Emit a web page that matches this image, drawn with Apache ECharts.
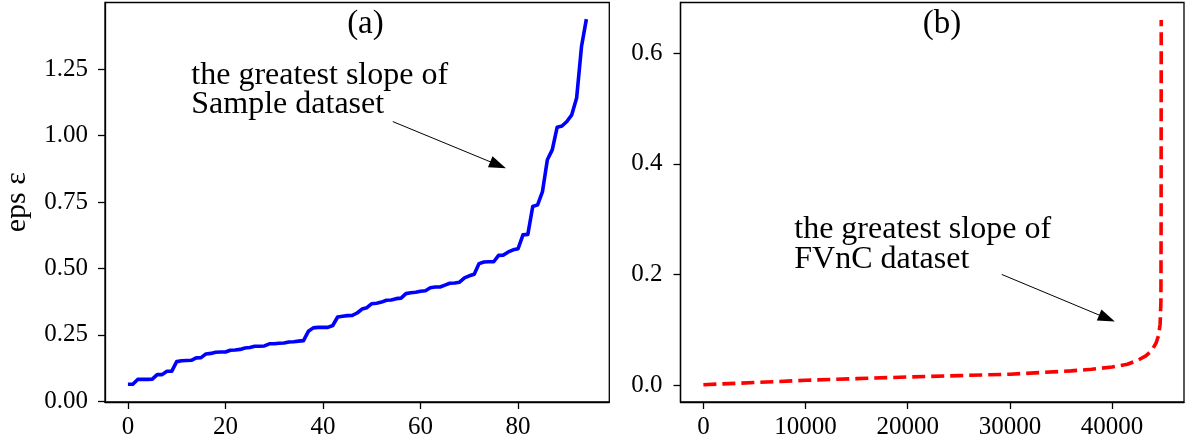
<!DOCTYPE html>
<html>
<head>
<meta charset="utf-8">
<script src="https://cdn.jsdelivr.net/npm/echarts@6/dist/echarts.min.js"></script>
<style>
html,body{margin:0;padding:0;background:#fff;}
#c{width:1191px;height:446px;}
</style>
</head>
<body>
<div id="c"></div>
<script>
// ---- data ----
const epsSample = [
  0.064, 0.064, 0.082, 0.082, 0.082, 0.083, 0.100, 0.100, 0.113, 0.113,
  0.149, 0.152, 0.153, 0.154, 0.163, 0.164, 0.178, 0.180, 0.184, 0.185,
  0.185, 0.192, 0.193, 0.195, 0.200, 0.202, 0.207, 0.207, 0.208, 0.216,
  0.216, 0.218, 0.219, 0.223, 0.224, 0.226, 0.228, 0.263, 0.276, 0.278,
  0.278, 0.278, 0.285, 0.317, 0.320, 0.322, 0.323, 0.332, 0.347, 0.352,
  0.367, 0.369, 0.373, 0.380, 0.381, 0.386, 0.388, 0.405, 0.408, 0.410,
  0.414, 0.416, 0.427, 0.430, 0.430, 0.437, 0.444, 0.445, 0.448, 0.464,
  0.472, 0.478, 0.518, 0.524, 0.525, 0.525, 0.549, 0.550, 0.562, 0.570,
  0.574, 0.626, 0.628, 0.733, 0.739, 0.789, 0.909, 0.946, 1.031, 1.036,
  1.053, 1.078, 1.141, 1.335, 1.438
];
const fvncX = [0, 5000, 10000, 15000, 20000, 25000, 30000, 33000, 36000, 38000, 40000, 41500, 42500, 43300, 43900, 44300, 44550, 44700, 44780, 44800, 44810];
const fvncEps = [0.001, 0.005, 0.009, 0.012, 0.015, 0.0175, 0.020, 0.023, 0.026, 0.029, 0.033, 0.038, 0.045, 0.053, 0.063, 0.076, 0.090, 0.110, 0.150, 0.300, 0.660];

const xTicksA = [0, 20, 40, 60, 80];
const yTicksA = [0, 0.25, 0.5, 0.75, 1.0, 1.25];
const xTicksB = [0, 10000, 20000, 30000, 40000];
const yTicksB = [0, 0.2, 0.4, 0.6];

const titleA = '(a)', titleB = '(b)';
const yName = 'eps ε';
const noteA = ['the greatest slope of', 'Sample dataset'];
const noteB = ['the greatest slope of', 'FVnC dataset'];

// annotation anchors (data coords)
const noteAPos = [[13.0, 1.2244], [13.0, 1.1154]];
const noteBPos = [[8895, 0.2804], [8895, 0.2279]];
const arrowA = [[54.3, 1.0526], [75.9, 0.889]];
const arrowB = [[29198, 0.2003], [39502, 0.121]];
const titleAPos = [48.7, 1.418];
const titleBPos = [23363, 0.653];

// ---- chart ----
const FONT = 'Liberation Serif';
const chart = echarts.init(document.getElementById('c'), null, {renderer: 'canvas'});

function axisCommon(ticks, fmt, margin) {
  return {
    axisLine: {show: true, onZero: false, lineStyle: {color: '#000', width: 1.3}},
    axisTick: {show: true, length: 7, inside: false, customValues: ticks, lineStyle: {color: '#000', width: 1.3}},
    axisLabel: {customValues: ticks, fontFamily: FONT, fontSize: 25, color: '#000', margin: margin, formatter: fmt},
    splitLine: {show: false}
  };
}

const seriesA = epsSample.map((v, i) => [i, v]);
const seriesB = fvncX.map((x, i) => [x, fvncEps[i]]);

const gridBase = {top: 2.5, height: 399.5, show: true, borderColor: '#000', borderWidth: 1.3,
  backgroundColor: 'transparent', containLabel: false, outerBoundsMode: 'none'};

const option = {
  animation: false,
  backgroundColor: '#fff',
  grid: [
    Object.assign({left: 105, width: 504.3}, gridBase),
    Object.assign({left: 680.5, width: 503.5}, gridBase)
  ],
  xAxis: [
    Object.assign({type: 'value', gridIndex: 0, min: -4.7, max: 98.7}, axisCommon(xTicksA, v => String(v), 13)),
    Object.assign({type: 'value', gridIndex: 1, min: -2240, max: 47040}, axisCommon(xTicksB, v => String(v), 13))
  ],
  yAxis: [
    Object.assign({type: 'value', gridIndex: 0, min: -0.003, max: 1.5008,
      name: yName, nameLocation: 'middle', nameGap: 73, nameRotate: 90,
      nameTextStyle: {fontFamily: FONT, fontSize: 30, color: '#000'}},
      axisCommon(yTicksA, v => v.toFixed(2), 17)),
    Object.assign({type: 'value', gridIndex: 1, min: -0.0302, max: 0.6916},
      axisCommon(yTicksB, v => v.toFixed(1), 18))
  ],
  series: [
    {
      type: 'line', xAxisIndex: 0, yAxisIndex: 0, data: seriesA,
      showSymbol: false, symbol: 'none', smooth: false,
      lineStyle: {color: '#0000ff', width: 3.6, join: 'round', cap: 'butt'},
      markLine: {
        silent: true, animation: false, symbol: ['none', 'triangle'], symbolSize: [12, 17],
        label: {show: false},
        lineStyle: {color: '#000', width: 1, type: 'solid'},
        data: [[{coord: arrowA[0]}, {coord: arrowA[1]}]]
      }
    },
    {
      type: 'line', xAxisIndex: 1, yAxisIndex: 1, data: seriesB,
      showSymbol: false, symbol: 'none', smooth: false,
      lineStyle: {color: '#ff0000', width: 3.6, type: [13, 6], join: 'round', cap: 'butt'},
      markLine: {
        silent: true, animation: false, symbol: ['none', 'triangle'], symbolSize: [12, 17],
        label: {show: false},
        lineStyle: {color: '#000', width: 1, type: 'solid'},
        data: [[{coord: arrowB[0]}, {coord: arrowB[1]}]]
      }
    }
  ]
};
chart.setOption(option);

function px(gridIdx, pt) {
  return chart.convertToPixel({xAxisIndex: gridIdx, yAxisIndex: gridIdx}, pt);
}
const graphics = [];
function addText(gi, pos, text, size, align) {
  const p = px(gi, pos);
  graphics.push({type: 'text', x: p[0], y: p[1], silent: true,
    style: {text: text, font: size + 'px "' + FONT + '"', fill: '#000', align: align, verticalAlign: 'middle'}});
}
addText(0, titleAPos, titleA, 33, 'center');
addText(1, titleBPos, titleB, 33, 'center');
noteA.forEach((t, i) => addText(0, noteAPos[i], t, 32, 'left'));
noteB.forEach((t, i) => addText(1, noteBPos[i], t, 32, 'left'));
chart.setOption({graphic: graphics});
</script>
</body>
</html>
